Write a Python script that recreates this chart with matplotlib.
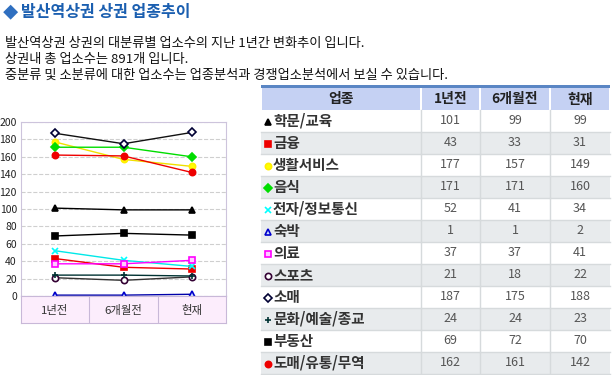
import matplotlib
matplotlib.use("Agg")
import matplotlib.pyplot as plt
from matplotlib.patches import Rectangle

plt.rcParams['font.family'] = ['Noto Sans CJK KR', 'DejaVu Sans']

# Data
periods = ["1년전", "6개월전", "현재"]
categories = ["학문/교육", "금융", "생활서비스", "음식", "전자/정보통신", "숙박",
              "의료", "스포츠", "소매", "문화/예술/종교", "부동산", "도매/유통/무역"]
year_ago = [101, 43, 177, 171, 52, 1, 37, 21, 187, 24, 69, 162]
six_months_ago = [99, 33, 157, 171, 41, 1, 37, 18, 175, 24, 72, 161]
now = [99, 31, 149, 160, 34, 2, 41, 22, 188, 23, 70, 142]
yticks = list(range(0, 201, 20))

# style per category: (marker, marker face, marker edge, line colour)
styles = [
    ("^", "black", "black", "black"),
    ("s", "#ee0000", "#ee0000", "#ee0000"),
    ("o", "#ffff00", "#ffee00", "#f0e000"),
    ("D", "#00dd00", "#00dd00", "#00dd00"),
    ("x", "#00ffff", "#00ffff", "#00e8e8"),
    ("^", "#ccddff", "#0000cc", "#0000aa"),
    ("s", "#ffccff", "#ff00ff", "#ff00ff"),
    ("o", "white", "#330033", "#333333"),
    ("D", "white", "#000033", "#111111"),
    ("+", "#003333", "#003333", "#003333"),
    ("s", "black", "black", "black"),
    ("o", "#ee0000", "#ee0000", "#ee0000"),
]

W, H = 613, 375
fig = plt.figure(figsize=(W / 100, H / 100), dpi=100)
fig.patch.set_facecolor("white")


def box(x0, y0, x1, y1):
    # pixel box (top-left origin) -> figure fraction rect
    return [x0 / W, 1 - y1 / H, (x1 - x0) / W, (y1 - y0) / H]


def ftext(x, y, s, **kw):
    fig.text(x / W, 1 - y / H, s, **kw)


# Header texts
ftext(3, 13, "◆", color="#2f6fc0", fontsize=11, va="center", ha="left")
ftext(21, 12, "발산역상권 상권 업종추이", color="#1b5fb0", fontsize=11.5,
      fontweight="bold", va="center", ha="left")
body_lines = ["발산역상권 상권의 대분류별 업소수의 지난 1년간 변화추이 입니다.",
              "상권내 총 업소수는 891개 입니다.",
              "중분류 및 소분류에 대한 업소수는 업종분석과 경쟁업소분석에서 보실 수 있습니다."]
for k, line in enumerate(body_lines):
    ftext(5, 43 + 16 * k, line, color="#111111", fontsize=9.5, va="center", ha="left")

# Line chart
ax = fig.add_axes(box(21, 122, 226, 296))
x = range(len(periods))
for i, cat in enumerate(categories):
    m, fc, ec, lc = styles[i]
    vals = [year_ago[i], six_months_ago[i], now[i]]
    ax.plot(x, vals, color=lc, linewidth=1, marker=m, markersize=4.5,
            markerfacecolor=fc, markeredgecolor=ec, markeredgewidth=1.2)
ax.set_xlim(-0.5, 2.5)
ax.set_ylim(0, 200)
ax.set_yticks(yticks)
ax.set_yticklabels([str(v) for v in yticks], fontsize=7.5, color="#222222")
ax.tick_params(axis="y", length=0, pad=3)
ax.set_xticks([])
ax.grid(axis="y", linestyle="--", color="#cfcfcf", linewidth=0.8)
ax.set_axisbelow(True)
for s in ax.spines.values():
    s.set_color("#cdc4dc")
    s.set_linewidth(0.8)

# category cells below the chart
axl = fig.add_axes(box(21, 296, 226, 323))
axl.set_xlim(-0.5, 2.5)
axl.set_ylim(0, 1)
axl.set_facecolor("#fcedfc")
axl.set_xticks([])
axl.set_yticks([])
for s in axl.spines.values():
    s.set_color("#c8b8d8")
    s.set_linewidth(0.8)
for b in [0.5, 1.5]:
    axl.axvline(b, color="#c8b8d8", linewidth=0.8)
for i, p in enumerate(periods):
    axl.text(i, 0.48, p, ha="center", va="center", fontsize=8.2, color="#333333")

# Table
axt = fig.add_axes([0, 0, 1, 1])
axt.set_xlim(0, W)
axt.set_ylim(H, 0)
axt.axis("off")
axt.set_zorder(-1)

cols = [261, 421, 480, 550, 610]
header_top, header_bot = 88, 110
row_h = 22
axt.add_patch(Rectangle((cols[0], 85), cols[-1] - cols[0], 3, color="#5a86c4", lw=0))
heads = ["업종"] + periods
for j in range(4):
    axt.add_patch(Rectangle((cols[j] + 1, header_top), cols[j + 1] - cols[j] - 2,
                            header_bot - header_top, color="#c5d1f3", lw=0))
    axt.text((cols[j] + cols[j + 1]) / 2, (header_top + header_bot) / 2 + 0.5, heads[j],
             ha="center", va="center", fontsize=10, fontweight="bold", color="#222222")

for i, cat in enumerate(categories):
    y0 = header_bot + i * row_h
    yc = y0 + row_h / 2
    bg = "white" if i % 2 == 0 else "#e8ebed"
    axt.add_patch(Rectangle((cols[0], y0), cols[-1] - cols[0], row_h, color=bg, lw=0))
    axt.plot([cols[0], cols[-1]], [y0 + row_h, y0 + row_h], color="#d6dadc", lw=1)
    for c in cols[1:-1]:
        axt.plot([c, c], [y0, y0 + row_h], color="#d6dadc", lw=1)
    m, fc, ec, lc = styles[i]
    axt.plot([cols[0] + 7], [yc + 0.5], marker=m, markersize=4.5, markerfacecolor=fc,
             markeredgecolor=ec, markeredgewidth=1.2, linestyle="none")
    axt.text(cols[0] + 12, yc, cat, ha="left", va="center",
             fontsize=10.5, fontweight="bold", color="#333333")
    vals = [year_ago[i], six_months_ago[i], now[i]]
    for j, v in enumerate(vals):
        axt.text((cols[j + 1] + cols[j + 2]) / 2, yc, str(v),
                 ha="center", va="center", fontsize=9, color="#555555")

fig.savefig("out.png", dpi=100)
